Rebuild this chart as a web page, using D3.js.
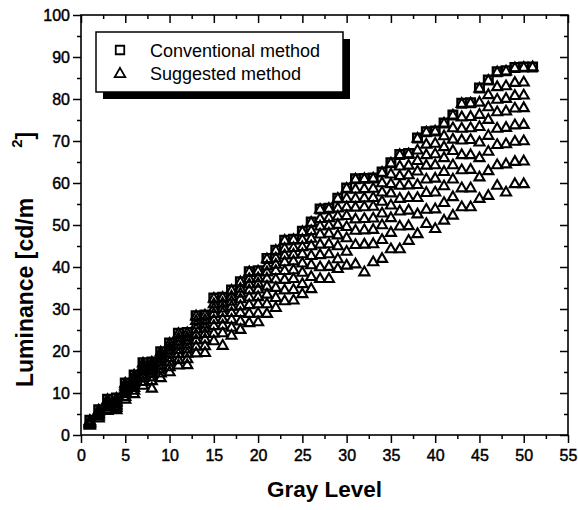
<!DOCTYPE html>
<html>
<head>
<meta charset="utf-8">
<script src="https://cdn.jsdelivr.net/npm/d3@7/dist/d3.min.js"></script>
<style>
  html, body { margin: 0; padding: 0; background: #fff; }
  svg { display: block; }
  text { font-family: "Liberation Sans", Arial, Helvetica, sans-serif; fill: #000; }
</style>
</head>
<body>
<svg id="chart" width="578" height="510"></svg>
<script>
// ---------------- DATA ----------------
const grayLevels = [1,2,3,4,5,6,7,8,9,10,11,12,13,14,15,16,17,18,19,20,21,22,23,24,25,26,27,28,29,30,31,32,33,34,35,36,37,38,39,40,41,42,43,44,45,46,47,48,49,50,51];

// Conventional method (squares), one value per gray level 1..51
const conventional = [3.5, 6.0, 8.5, 8.8, 12.4, 14.3, 17.2, 17.4, 19.8, 21.9,
  24.2, 24.4, 28.4, 28.6, 32.6, 32.8, 34.5, 36.5, 38.9, 39.1,
  42.0, 44.0, 46.4, 46.6, 48.5, 50.7, 53.8, 54.0, 56.4, 58.8,
  61.0, 61.1, 61.2, 62.6, 64.8, 66.8, 67.0, 70.7, 72.2, 72.4,
  74.3, 76.2, 79.0, 79.1, 82.6, 84.5, 86.5, 86.7, 87.5, 87.6, 87.6];

// Suggested method (triangles): several families of points, gray levels 1..51 / 1..50
const suggested0 = [3.5, 6.0, 8.5, 8.8, 12.4, 14.3, 17.2, 17.4, 19.8, 21.9,
  24.2, 24.4, 28.4, 28.6, 32.6, 32.8, 34.5, 36.5, 38.9, 39.1,
  42.0, 44.0, 46.4, 46.6, 48.5, 50.7, 53.8, 54.0, 56.4, 58.8,
  61.0, 61.1, 61.2, 62.6, 64.8, 66.8, 67.0, 70.7, 72.2, 72.4,
  74.3, 76.2, 79.0, 79.1, 82.6, 84.5, 86.5, 86.7, 87.5, 87.6, 87.7];
const suggested1 = [3.4, 5.8, 8.2, 8.4, 11.9, 13.7, 16.5, 16.7, 19.0, 21.0,
  23.2, 23.4, 27.3, 27.5, 31.3, 31.5, 33.1, 35.0, 37.3, 37.5,
  40.3, 42.2, 44.5, 44.7, 46.6, 48.7, 51.6, 51.8, 54.1, 56.4,
  58.6, 58.7, 58.8, 60.1, 62.2, 64.1, 64.3, 67.9, 69.3, 69.5,
  71.3, 73.2, 75.8, 75.9, 79.3, 81.1, 83.0, 83.2, 84.0, 84.1];
const suggested2 = [3.2, 5.6, 7.9, 8.1, 11.5, 13.2, 15.9, 16.1, 18.3, 20.3,
  22.4, 22.6, 26.3, 26.5, 30.2, 30.3, 31.9, 33.8, 36.0, 36.2,
  38.9, 40.7, 42.9, 43.1, 44.9, 46.9, 49.8, 50.0, 52.2, 54.4,
  56.4, 56.5, 56.6, 57.9, 59.9, 61.8, 62.0, 65.4, 66.8, 67.0,
  68.7, 70.5, 73.1, 73.2, 76.4, 78.2, 80.0, 80.2, 80.9, 81.0];
const suggested3 = [3.1, 5.3, 7.6, 7.8, 11.0, 12.7, 15.3, 15.5, 17.6, 19.5,
  21.5, 21.7, 25.3, 25.5, 29.0, 29.2, 30.7, 32.5, 34.6, 34.8,
  37.4, 39.2, 41.3, 41.5, 43.2, 45.1, 47.9, 48.1, 50.2, 52.3,
  54.3, 54.4, 54.5, 55.7, 57.7, 59.5, 59.6, 62.9, 64.3, 64.4,
  66.1, 67.8, 70.3, 70.4, 73.5, 75.2, 77.0, 77.2, 77.9, 78.0];
const suggested4 = [3.0, 5.1, 7.2, 7.4, 10.5, 12.1, 14.5, 14.7, 16.7, 18.5,
  20.4, 20.6, 24.0, 24.2, 27.5, 27.7, 29.2, 30.8, 32.9, 33.0,
  35.5, 37.2, 39.2, 39.4, 41.0, 42.8, 45.5, 45.6, 47.7, 49.7,
  51.5, 51.6, 51.7, 52.9, 54.8, 56.4, 56.6, 59.7, 61.0, 61.2,
  62.8, 64.4, 66.8, 66.8, 69.8, 71.4, 73.1, 73.3, 73.9, 74.0];
const suggested5 = [2.8, 4.8, 6.8, 7.0, 9.9, 11.4, 13.8, 13.9, 15.8, 17.5,
  19.4, 19.5, 22.7, 22.9, 26.1, 26.2, 27.6, 29.2, 31.1, 31.3,
  33.6, 35.2, 37.1, 37.3, 38.8, 40.6, 43.0, 43.2, 45.1, 47.0,
  48.8, 48.9, 49.0, 50.1, 51.8, 53.4, 53.6, 56.6, 57.8, 57.9,
  59.4, 61.0, 63.2, 63.3, 66.1, 67.6, 69.2, 69.4, 70.0, 70.1];
const suggested6 = [2.6, 4.5, 6.3, 6.6, 9.2, 10.7, 12.8, 13.0, 14.8, 16.3,
  18.0, 18.2, 21.2, 21.3, 24.3, 24.4, 25.7, 27.2, 29.0, 29.1,
  31.3, 32.8, 34.6, 34.7, 36.1, 37.8, 40.1, 40.2, 42.0, 43.8,
  45.4, 45.5, 45.6, 46.6, 48.3, 49.8, 49.9, 52.7, 53.8, 53.9,
  55.4, 56.8, 58.9, 58.9, 61.5, 63.0, 64.4, 64.6, 65.2, 65.3];
const suggested7 = [2.4, 4.1, 5.9, 6.1, 8.6, 9.9, 11.9, 11.2, 13.7, 15.1,
  16.7, 16.8, 19.6, 19.7, 22.5, 21.4, 23.8, 25.2, 26.8, 27.0,
  29.0, 30.4, 32.0, 32.2, 33.7, 34.9, 37.3, 37.3, 39.7, 40.5,
  40.8, 38.9, 41.3, 42.1, 44.4, 44.4, 46.4, 48.0, 50.4, 49.2,
  51.2, 52.4, 54.4, 54.4, 56.4, 57.1, 59.5, 57.9, 59.9, 59.9];

const xTicks = [0,5,10,15,20,25,30,35,40,45,50,55];
const xMinor = [2.5,7.5,12.5,17.5,22.5,27.5,32.5,37.5,42.5,47.5,52.5];
const yTicks = [0,10,20,30,40,50,60,70,80,90,100];
const yMinor = [5,15,25,35,45,55,65,75,85,95];

const legendLabels = ["Conventional method", "Suggested method"];
const xTitle = "Gray Level";
const yTitle = "Luminance [cd/m";

// ---------------- CHART ----------------
const svg = d3.select("#chart");
const L = 81, R = 568, T = 15, B = 435;
const x = d3.scaleLinear().domain([0, 55]).range([L, R]);
const y = d3.scaleLinear().domain([0, 100]).range([B, T]);

const tickFont = "16px";

function styleAxis(g) {
  g.select(".domain").remove();
  g.selectAll(".tick line").attr("stroke", "#000").attr("stroke-width", 1.5);
  g.selectAll(".tick text").style("font-size", tickFont)
    .style("font-family", '"Liberation Sans", Arial, sans-serif')
    .attr("fill", "#000").attr("stroke", "#000").attr("stroke-width", 0.45);
}

// bottom axis
svg.append("g").attr("transform", `translate(0,${B})`)
  .call(d3.axisBottom(x).tickValues(xTicks).tickSize(8).tickPadding(7).tickFormat(d3.format("d")))
  .call(styleAxis);
svg.append("g").attr("transform", `translate(0,${B})`)
  .call(d3.axisBottom(x).tickValues(xMinor).tickSize(4).tickFormat(""))
  .call(styleAxis);
// top axis (inward)
svg.append("g").attr("transform", `translate(0,${T})`)
  .call(d3.axisTop(x).tickValues(xTicks).tickSize(-8).tickFormat(""))
  .call(styleAxis);
svg.append("g").attr("transform", `translate(0,${T})`)
  .call(d3.axisTop(x).tickValues(xMinor).tickSize(-4).tickFormat(""))
  .call(styleAxis);
// left axis
svg.append("g").attr("transform", `translate(${L},0)`)
  .call(d3.axisLeft(y).tickValues(yTicks).tickSize(8).tickPadding(3).tickFormat(d3.format("d")))
  .call(styleAxis);
svg.append("g").attr("transform", `translate(${L},0)`)
  .call(d3.axisLeft(y).tickValues(yMinor).tickSize(4).tickFormat(""))
  .call(styleAxis);
// right axis (inward)
svg.append("g").attr("transform", `translate(${R},0)`)
  .call(d3.axisRight(y).tickValues(yTicks).tickSize(-8).tickFormat(""))
  .call(styleAxis);
svg.append("g").attr("transform", `translate(${R},0)`)
  .call(d3.axisRight(y).tickValues(yMinor).tickSize(-4).tickFormat(""))
  .call(styleAxis);

// frame
svg.append("rect").attr("x", L).attr("y", T).attr("width", R - L).attr("height", B - T)
  .attr("fill", "none").attr("stroke", "#000").attr("stroke-width", 1.6);

// markers
const triSym = d3.symbol().type(d3.symbolTriangle).size(44);
const sqSym = d3.symbol().type(d3.symbolSquare).size(72);

const suggestedSeries = [suggested7, suggested6, suggested5, suggested4, suggested3, suggested2, suggested1, suggested0];
const triPts = [];
suggestedSeries.forEach(arr => arr.forEach((v, i) => triPts.push([grayLevels[i], v])));

const plot = svg.append("g");
plot.selectAll("path.tri").data(triPts).join("path").attr("class", "tri")
  .attr("d", triSym)
  .attr("transform", d => `translate(${x(d[0])},${y(d[1]) + 0.8})`)
  .attr("fill", "none").attr("stroke", "#000").attr("stroke-width", 2.1).attr("stroke-linejoin", "miter");

plot.selectAll("path.sq").data(conventional.map((v, i) => [grayLevels[i], v])).join("path").attr("class", "sq")
  .attr("d", sqSym)
  .attr("transform", d => `translate(${x(d[0])},${y(d[1])})`)
  .attr("fill", "none").attr("stroke", "#000").attr("stroke-width", 2.5);

// legend
const lg = svg.append("g");
lg.append("rect").attr("x", 103).attr("y", 39).attr("width", 247).attr("height", 60).attr("fill", "#000");
lg.append("rect").attr("x", 96).attr("y", 32).attr("width", 247).attr("height", 60)
  .attr("fill", "#fff").attr("stroke", "#000").attr("stroke-width", 1.5);
lg.append("path").attr("d", d3.symbol().type(d3.symbolSquare).size(72)())
  .attr("transform", "translate(120,50)").attr("fill", "none").attr("stroke", "#000").attr("stroke-width", 1.8);
lg.append("path").attr("d", d3.symbol().type(d3.symbolTriangle).size(48)())
  .attr("transform", "translate(120,74)").attr("fill", "none").attr("stroke", "#000").attr("stroke-width", 1.8);
lg.selectAll("text.lt").data(legendLabels).join("text").attr("class", "lt")
  .attr("x", 150).attr("y", (d, i) => 56.5 + i * 23)
  .style("font-size", "18px").text(d => d);

// axis titles
svg.append("text").attr("x", (L + R) / 2).attr("y", 497).attr("text-anchor", "middle")
  .style("font-size", "22.5px").style("font-weight", "bold").text(xTitle);

const yt = svg.append("text").attr("transform", "translate(33,387) rotate(-90)")
  .attr("text-anchor", "start").style("font-size", "23px").style("font-weight", "bold");
yt.append("tspan").text(yTitle);
yt.append("tspan").attr("dx", 50).attr("dy", -11).style("font-size", "15px").text("2");
yt.append("tspan").attr("dx", 0).attr("dy", 11).text("]");
</script>
</body>
</html>
